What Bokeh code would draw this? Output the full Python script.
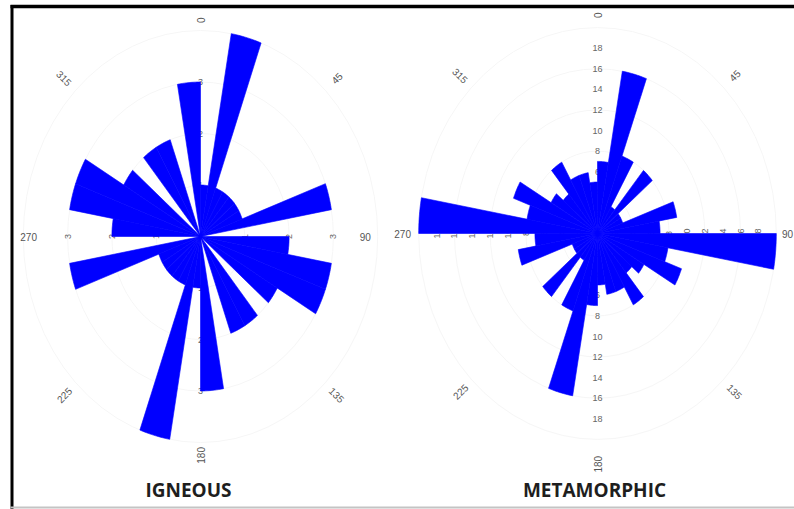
import numpy as np
from bokeh.plotting import figure
from bokeh.models import Range1d, Label
from bokeh.embed import file_html
from bokeh.resources import INLINE
from bokeh.core.properties import value

# ---------------- data ----------------
BIN_WIDTH = 10
bin_starts = list(range(0, 180, BIN_WIDTH))          # bidirectional rose: mirrored at +180
igneous_counts = [1, 4, 1, 1, 1, 1, 1, 3, 0, 2, 3, 3, 2, 0, 2, 2, 0, 3]
metamorphic_counts = [7, 16, 8, 3, 8, 3, 3, 9, 7, 20, 8, 10, 6, 5, 8, 6, 6, 5]
direction_angles = [0, 45, 90, 135, 180, 225, 270, 315]
direction_labels = ["0", "45", "90", "135", "180", "225", "270", "315"]
igneous_ticks = [1, 2, 3]
metamorphic_ticks = [2, 4, 6, 8, 10, 12, 14, 16, 18]
titles = ["IGNEOUS", "METAMORPHIC"]

W, H = 794, 509


def wedge_polys(starts, counts, width):
    xs, ys = [], []
    for s, c in zip(starts, counts):
        if c <= 0:
            continue
        for off in (0, 180):
            th = np.radians(np.linspace(s + off, s + off + width, 14))
            xs.append([0.0] + list(c * np.sin(th)) + [0.0])
            ys.append([0.0] + list(c * np.cos(th)) + [0.0])
    return xs, ys


p = figure(width=W, height=H, x_range=Range1d(0, W), y_range=Range1d(0, H),
           output_backend="svg", toolbar_location=None, min_border=0,
           x_axis_location=None, y_axis_location=None)
p.grid.visible = False
p.outline_line_color = None
p.background_fill_color = "white"
p.border_fill_color = "white"


def add_rose(key, cx, cy, sx, sy, counts, ticks, rings, dir_r):
    xr, yr = key + "x", key + "y"
    p.extra_x_ranges[xr] = Range1d(-cx / sx, (W - cx) / sx)
    p.extra_y_ranges[yr] = Range1d(-(H - cy) / sy, cy / sy)
    kw = dict(x_range_name=xr, y_range_name=yr)

    # faint polar rings
    p.ellipse(x=[0] * len(rings), y=[0] * len(rings),
              width=[2 * r for r in rings], height=[2 * r for r in rings],
              fill_color=None, line_color="#f6f6f6", line_width=1, **kw)

    # radial tick labels (under the bars)
    n = len(ticks)
    tx = [0] * n + [0] * n + list(ticks) + [-t for t in ticks]
    ty = list(ticks) + [-t for t in ticks] + [0] * (2 * n)
    tt = [str(t) for t in ticks] * 4
    ta = [0.0] * (2 * n) + [np.pi / 2] * (2 * n)
    p.text(x=tx, y=ty, text=tt, angle=ta, text_align="center", text_baseline="middle",
           text_font_size="9px", text_color="#666666",
           text_font=value("Liberation Sans"), **kw)

    # direction labels, oriented radially
    th = np.radians(direction_angles)
    rr = np.array(dir_r)
    dx = list(rr * np.sin(th))
    dy = list(rr * np.cos(th))
    angs = []
    for a in direction_angles:
        b = ((90 - a + 90) % 180) - 90
        if b == -90:
            b = 90
        angs.append(np.radians(b))
    p.text(x=dx, y=dy, text=direction_labels, angle=angs, text_align="center",
           text_baseline="middle", text_font_size="10px", text_color="#555555",
           text_font=value("Liberation Sans"), **kw)

    # rose bars
    xs, ys = wedge_polys(bin_starts, counts, BIN_WIDTH)
    p.patches(xs=xs, ys=ys, fill_color="#0000ff", line_color="#0000ff",
              line_width=0.6, **kw)


add_rose("ign", 200, 236, 44.3, 51.5, igneous_counts, igneous_ticks,
         [1, 2, 3, 4], [4.2, 4.35, 3.72, 4.35, 4.25, 4.35, 3.88, 4.35])
add_rose("met", 597, 233, 8.94, 10.3, metamorphic_counts, metamorphic_ticks,
         [4, 8, 12, 16, 20], [21.2, 21.7, 21.25, 21.7, 22.4, 21.7, 21.8, 21.7])

# titles
for t, tx in zip(titles, [188, 594]):
    p.add_layout(Label(x=tx, y=H - 489, text=t, text_align="center",
                       text_baseline="middle", text_font="Open Sans",
                       text_font_size="19px", text_font_style="bold",
                       text_color="#1e1e1e"))

# frame lines around the figure panel
p.segment(x0=[10], y0=[H - 6], x1=[W], y1=[H - 6], line_color="black", line_width=3.5)
p.segment(x0=[11.5], y0=[H - 4.5], x1=[11.5], y1=[0], line_color="black", line_width=3)
p.segment(x0=[10], y0=[H - 507], x1=[W], y1=[H - 507], line_color="#c4c4c4", line_width=2)

open("out.html", "w").write(file_html(p, INLINE))
